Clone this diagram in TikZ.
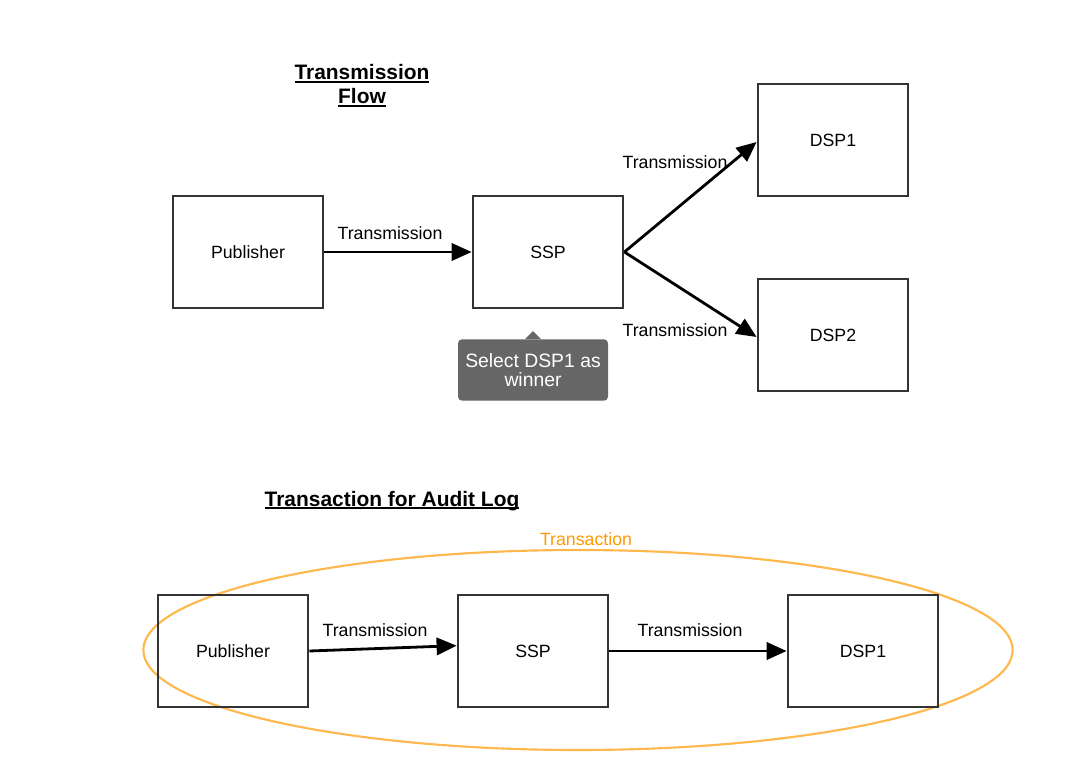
\documentclass[tikz,border=0pt]{standalone}
\usepackage{fontspec}
\setmainfont{Liberation Sans}
\usetikzlibrary{arrows.meta,shapes.geometric}
\definecolor{boxline}{HTML}{333333}
\definecolor{tipgray}{HTML}{666666}
\definecolor{orangeline}{HTML}{FFB84D}
\definecolor{orangetext}{HTML}{FF9900}
\newcommand\myul[1]{\setbox0\hbox{#1}\rlap{\rule[-2.4pt]{\wd0}{1.5pt}}\box0}
\begin{document}
\begin{tikzpicture}[x=0.75pt,y=-0.75pt,
  box/.style={draw=boxline,line width=2.1pt,minimum width=112.5pt,minimum height=84pt,inner sep=0pt,font=\fontsize{13.3}{15}\selectfont},
  flow/.style={draw=black,line width=2.1pt,-{Triangle[length=15pt,width=13pt]}},
  lbl/.style={font=\fontsize{13.3}{15}\selectfont,inner sep=0pt},
  ttl/.style={font=\bfseries\fontsize{15.7}{18}\selectfont,inner sep=0pt,anchor=base}]
\useasboundingbox (0,0) rectangle (1087,780);
\fill[white] (0,0) rectangle (1087,780);
% titles
\node[ttl] (t1a) at (362,80) {\myul{Transmission}};
\node[ttl] (t1b) at (362,104) {\myul{Flow}};
% top boxes
\node[box] (pub) at (248,252) {Publisher};
\node[box] (ssp) at (548,252) {SSP};
\node[box] (dsp1) at (833,140) {DSP1};
\node[box] (dsp2) at (833,335) {DSP2};
\draw[flow] (pub.east) -- (ssp.west);
\draw[flow] (ssp.east) -- ([yshift=-1.5pt]dsp1.west);
\draw[flow] (ssp.east) -- ([yshift=-1.5pt]dsp2.west);
\node[lbl] (l1) at (390,233) {Transmission};
\node[lbl] (l2) at (675,162) {Transmission};
\node[lbl] (l3) at (675,330) {Transmission};
% tooltip
\node[fill=tipgray,rounded corners=3pt,minimum width=112.5pt,minimum height=46pt,inner sep=0pt,text=white,align=center,font=\fontsize{14.5}{14.5}\selectfont] (tip) at (533,370) {Select DSP1 as\\winner};
\fill[tipgray] ([xshift=-6pt]tip.north) -- ([yshift=6pt]tip.north) -- ([xshift=6pt]tip.north) -- cycle;
% bottom
\node[ttl] (t2) at (392,506) {\myul{Transaction for Audit Log}};
\node[draw=orangeline,line width=1.6pt,ellipse,minimum width=652pt,minimum height=150pt,inner sep=0pt] (ell) at (578,650) {};
\node[lbl,text=orangetext] (tr) at (586,539) {Transaction};
\node[box] (bpub) at (233,651) {Publisher};
\node[box] (bssp) at (533,651) {SSP};
\node[box] (bdsp) at (863,651) {DSP1};
\draw[flow] (bpub.east) -- ([yshift=4pt]bssp.west);
\draw[flow] (bssp.east) -- (bdsp.west);
\node[lbl] (l4) at (375,630) {Transmission};
\node[lbl] (l5) at (690,630) {Transmission};
\end{tikzpicture}
\end{document}
